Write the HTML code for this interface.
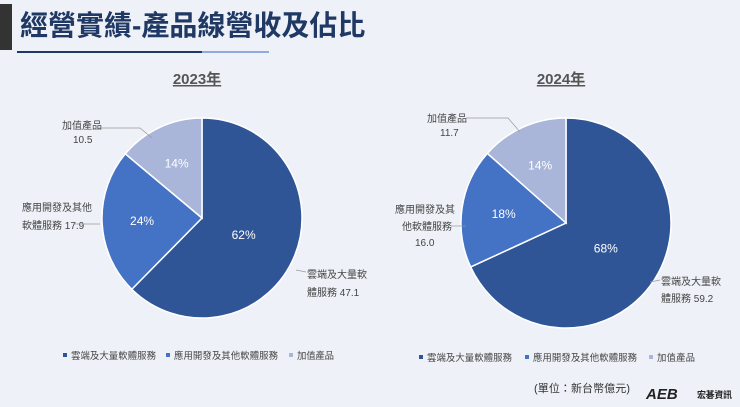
<!DOCTYPE html>
<html><head><meta charset="utf-8"><style>
body{margin:0;width:740px;height:407px;background:#eef2f8;overflow:hidden;font-family:"Liberation Sans","Noto Sans CJK TC",sans-serif}
svg{position:absolute;left:0;top:0}
</style></head><body>
<svg id="c" width="740" height="407">
<rect x="0" y="4" width="12" height="46" fill="#333"/>
<text x="20" y="35" font-size="28" font-weight="bold" fill="#1f3864">經營實績-產品線營收及佔比</text>
<rect x="17" y="51" width="185" height="2" fill="#1f3864"/>
<rect x="202" y="51" width="67" height="2" fill="#8faadc"/>
<text x="197" y="84" font-size="15" font-weight="bold" fill="#555" text-anchor="middle" text-decoration="underline">2023年</text>
<text x="561" y="84" font-size="15" font-weight="bold" fill="#555" text-anchor="middle" text-decoration="underline">2024年</text>
<g id="p1"></g><g id="p2"></g>
<g font-size="10" fill="#444">
<text x="62" y="129">加值產品</text><text x="73" y="143">10.5</text>
<text x="22" y="211">應用開發及其他</text><text x="22" y="229">軟體服務  17.9</text>
<text x="307" y="278">雲端及大量軟</text><text x="307" y="296">體服務  47.1</text>
<text x="427" y="122">加值產品</text><text x="440" y="136">11.7</text>
<text x="395" y="213">應用開發及其</text><text x="402" y="230">他軟體服務</text><text x="415" y="246">16.0</text>
<text x="661" y="285">雲端及大量軟</text><text x="661" y="302">體服務  59.2</text>
</g>
<g stroke="#999" stroke-width="0.7" fill="none">
<path d="M98 128 L140 128 L152 138"/><path d="M73 224 L100 224"/><path d="M306 272 L296 270"/>
<path d="M466 118 L508 118 L520 132"/><path d="M451 226 L466 226"/><path d="M660 280 L650 282"/>
</g>
<g font-size="9.4" fill="#444">
<rect x="63" y="353" width="4" height="4" fill="#2f5597"/><text x="71" y="359" textLength="85">雲端及大量軟體服務</text>
<rect x="166" y="353" width="4" height="4" fill="#4472c4"/><text x="174" y="359" textLength="104">應用開發及其他軟體服務</text>
<rect x="289" y="353" width="4" height="4" fill="#a9b5d9"/><text x="297" y="359" textLength="37">加值產品</text>
<rect x="419" y="355" width="4" height="4" fill="#2f5597"/><text x="427" y="361" textLength="85">雲端及大量軟體服務</text>
<rect x="525" y="355" width="4" height="4" fill="#4472c4"/><text x="533" y="361" textLength="104">應用開發及其他軟體服務</text>
<rect x="649" y="355" width="4" height="4" fill="#a9b5d9"/><text x="657" y="361" textLength="38">加值產品</text>
</g>
<text x="534" y="392" font-size="11" fill="#333" textLength="96">(單位：新台幣億元)</text>
<text x="646" y="399" font-size="15" font-weight="bold" font-style="italic" fill="#222">AEB</text>
<text x="697" y="398" font-size="9" font-weight="bold" fill="#222" textLength="35">宏碁資訊</text>
</svg>
<script>
const categories=["雲端及大量軟體服務","應用開發及其他軟體服務","加值產品"];
const values2023=[47.1,17.9,10.5];
const values2024=[59.2,16.0,11.7];
const pcts2023=[62,24,14];
const pcts2024=[68,18,14];
const colors=["#2f5597","#4472c4","#a9b5d9"];
const NS="http://www.w3.org/2000/svg";
function pie(g,vals,pcts,cx,cy,r,yr){
  const tot=vals.reduce((a,b)=>a+b,0);let a0=0;
  vals.forEach((v,i)=>{
    const a1=a0+v/tot*2*Math.PI;
    const p=(a)=>[cx+r*Math.sin(a),cy-r*Math.cos(a)];
    const [x0,y0]=p(a0),[x1,y1]=p(a1);
    const path=document.createElementNS(NS,"path");
    path.setAttribute("d",`M${cx},${cy}L${x0},${y0}A${r},${r} 0 ${a1-a0>Math.PI?1:0} 1 ${x1},${y1}Z`);
    path.setAttribute("fill",colors[i]);path.setAttribute("stroke","#fff");path.setAttribute("stroke-width","1.5");
    
    
    g.appendChild(path);
    const m=(a0+a1)/2,k=i==0?0.45:0.6;
    const t=document.createElementNS(NS,"text");
    t.setAttribute("x",cx+r*k*Math.sin(m));t.setAttribute("y",cy-r*k*Math.cos(m)+4);
    t.setAttribute("text-anchor","middle");t.setAttribute("font-size","12");t.setAttribute("fill","#fff");
    t.textContent=pcts[i]+"%";
    
    
    g.appendChild(t);
    a0=a1;
  });
}
pie(document.getElementById("p1"),values2023,pcts2023,202,218,100,"2023");
pie(document.getElementById("p2"),values2024,pcts2024,566,223,105,"2024");
</script>
</body></html>
